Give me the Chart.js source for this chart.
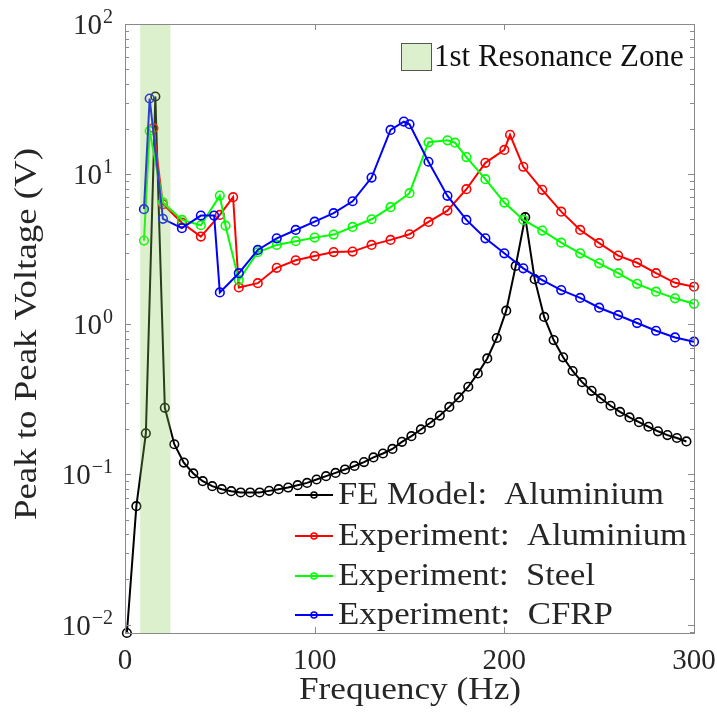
<!DOCTYPE html>
<html>
<head>
<meta charset="utf-8">
<script src="https://cdn.jsdelivr.net/npm/chart.js"></script>
<style>
    html, body { margin: 0; padding: 0; background: #fff; }
</style>
</head>
<body>
<canvas id="myChart" width="717" height="722"></canvas>
<script>
// FE model, aluminium plate
const feFreq = [1, 6, 11, 16, 21, 26, 31, 36, 41, 46, 51, 56, 61, 66, 71, 76, 81, 86, 91, 96,
    101, 106, 111, 116, 121, 126, 131, 136, 141, 146, 151, 156, 161, 166, 171, 176, 181, 186, 191, 196,
    201, 206, 211, 216, 221, 226, 231, 236, 241, 246, 251, 256, 261, 266, 271, 276, 281, 286, 291, 296];
const feVolt = [0.0088, 0.0615, 0.188, 32.9, 0.278, 0.159, 0.120, 0.1016, 0.0902, 0.0836,
    0.0798, 0.0774, 0.0759, 0.0759, 0.0759, 0.0778, 0.0798, 0.0819, 0.0849, 0.0879,
    0.0926, 0.0975, 0.1025, 0.108, 0.114, 0.121, 0.130, 0.138, 0.148, 0.165,
    0.180, 0.1995, 0.221, 0.247, 0.282, 0.326, 0.384, 0.471, 0.593, 0.811,
    1.233, 2.45, 5.17, 2.0, 1.12, 0.786, 0.603, 0.489, 0.412, 0.361,
    0.321, 0.287, 0.261, 0.240, 0.223, 0.208, 0.194, 0.183, 0.175, 0.166];

// experiments
const alFreq = [15, 20, 30, 40, 50, 57, 60, 70, 80, 90, 100, 110, 120, 130, 140, 150, 160, 170, 180, 190,
    200, 203, 210, 220, 230, 240, 250, 260, 270, 280, 290, 300];
const alVolt = [20.3, 6.3, 4.75, 3.84, 5.35, 7.03, 1.76, 1.88, 2.38, 2.67, 2.85, 3.03, 3.05, 3.38, 3.65, 3.98, 4.81, 5.72, 7.94, 11.9,
    14.5, 18.3, 11.2, 7.86, 5.63, 4.25, 3.47, 2.87, 2.57, 2.19, 1.89, 1.78];

const stFreq = [10, 13, 20, 30, 40, 50, 53, 60, 70, 80, 90, 100, 110, 120, 130, 140, 150, 160, 170, 174,
    180, 190, 200, 210, 220, 230, 240, 250, 260, 270, 280, 290, 300];
const stVolt = [3.61, 19.4, 6.5, 4.96, 4.57, 7.2, 4.54, 1.97, 3.02, 3.38, 3.58, 3.78, 3.96, 4.45, 5.01, 6.03, 7.47, 16.3, 16.8, 16.2,
    13.0, 9.26, 6.47, 4.96, 4.21, 3.50, 2.97, 2.55, 2.19, 1.86, 1.65, 1.49, 1.37];

const cfFreq = [10, 13, 20, 30, 40, 47, 50, 60, 70, 80, 90, 100, 110, 120, 130, 140, 147, 150, 160, 170,
    180, 190, 200, 210, 220, 230, 240, 250, 260, 270, 280, 290, 300];
const cfVolt = [5.85, 31.9, 5.04, 4.37, 5.3, 5.3, 1.63, 2.19, 3.13, 3.74, 4.25, 4.83, 5.5, 6.6, 9.49, 19.7, 22.4, 21.5, 12.1, 7.17,
    4.96, 3.74, 2.97, 2.36, 1.97, 1.69, 1.50, 1.29, 1.15, 1.02, 0.906, 0.818, 0.766];

const seriesNames = ['FE Model:  Aluminium', 'Experiment:  Aluminium', 'Experiment:  Steel', 'Experiment:  CFRP'];
const seriesColors = ['#000000', '#ff0000', '#00ff00', '#0000ff'];
const xTicks = [0, 100, 200, 300];
const yExps = [-2, -1, 0, 1, 2];
const resonanceZone = [8, 24];
const zoneLabel = '1st Resonance Zone';

const FONT = '"Liberation Serif", "Times New Roman", serif';
const TXT = '#262626';

const toPoints = (xs, ys) => xs.map((v, i) => ({ x: v, y: ys[i] }));

// text squeezed/stretched to the width measured on the reference
function wideText(ctx, text, x, y, size, width) {
    ctx.font = size + 'px ' + FONT;
    const w = ctx.measureText(text).width;
    ctx.save();
    ctx.translate(x, y);
    ctx.scale(width / w, 1);
    ctx.textAlign = 'left';
    ctx.fillText(text, 0, 0);
    ctx.restore();
}

function drawPow(ctx, exp, xRight, yc) {
    const sup = exp < 0 ? '\u2212' + (-exp) : String(exp);
    ctx.textAlign = 'left';
    ctx.textBaseline = 'alphabetic';
    ctx.font = '20px ' + FONT;
    const ws = ctx.measureText(sup).width;
    ctx.font = '29px ' + FONT;
    const wb = ctx.measureText('10').width;
    ctx.fillText('10', xRight - ws - wb - 1, yc + 10);
    ctx.font = '20px ' + FONT;
    ctx.fillText(sup, xRight - ws, yc - 1);
}

const zonePlugin = {
    id: 'zone',
    afterDatasetsDraw(chart) {
        const { ctx, chartArea: a, scales: { x } } = chart;
        const x0 = x.getPixelForValue(resonanceZone[0]);
        const x1 = x.getPixelForValue(resonanceZone[1]);
        ctx.save();
        ctx.fillStyle = 'rgba(142,205,88,0.3)';
        ctx.fillRect(x0, a.top, x1 - x0, a.bottom - a.top);
        ctx.restore();
    }
};

const framePlugin = {
    id: 'frame',
    afterDraw(chart) {
        const { ctx, chartArea: a, scales: { x, y } } = chart;
        ctx.save();
        // box
        ctx.strokeStyle = '#8a8a8a';
        ctx.lineWidth = 1;
        ctx.strokeRect(a.left + 0.5, a.top + 0.5, a.right - a.left, a.bottom - a.top);

        ctx.beginPath();
        xTicks.forEach(v => {
            const px = Math.round(x.getPixelForValue(v)) + 0.5;
            ctx.moveTo(px, a.bottom); ctx.lineTo(px, a.bottom - 6);
            ctx.moveTo(px, a.top); ctx.lineTo(px, a.top + 6);
        });
        for (let e = -3; e <= 1; e++) {
            for (let k = 1; k <= 9; k++) {
                const v = k * Math.pow(10, e);
                if (v < y.min || v > y.max) continue;
                const py = Math.round(y.getPixelForValue(v)) + 0.5;
                const len = k === 1 ? 6 : 4;
                ctx.moveTo(a.left, py); ctx.lineTo(a.left + len, py);
                ctx.moveTo(a.right, py); ctx.lineTo(a.right - len, py);
            }
        }
        ctx.stroke();

        // tick labels
        ctx.fillStyle = TXT;
        ctx.font = '29px ' + FONT;
        ctx.textAlign = 'center';
        ctx.textBaseline = 'middle';
        xTicks.forEach(v => ctx.fillText(String(v), x.getPixelForValue(v), a.bottom + 28));
        yExps.forEach(e => drawPow(ctx, e, 113, y.getPixelForValue(Math.pow(10, e))));

        // axis titles
        ctx.textBaseline = 'middle';
        wideText(ctx, 'Frequency (Hz)', 299, 691, 31, 222);
        ctx.save();
        ctx.translate(28, 520);
        ctx.rotate(-Math.PI / 2);
        wideText(ctx, 'Peak to Peak Voltage (V)', 0, 0, 31, 372);
        ctx.restore();

        // zone legend
        ctx.fillStyle = 'rgb(221,240,205)';
        ctx.fillRect(401, 43, 30, 27);
        ctx.strokeStyle = '#555';
        ctx.strokeRect(401.5, 43.5, 30, 27);
        ctx.fillStyle = '#111';
        ctx.font = '31px ' + FONT;
        ctx.textAlign = 'left';
        ctx.fillText(zoneLabel, 434, 58);

        // series legend
        const rows = [495, 536, 576, 615];
        seriesNames.forEach((name, i) => {
            const ry = rows[i];
            ctx.strokeStyle = seriesColors[i];
            ctx.lineWidth = 2;
            ctx.beginPath();
            ctx.moveTo(295, ry); ctx.lineTo(333, ry);
            ctx.stroke();
            ctx.lineWidth = 1.5;
            ctx.beginPath();
            ctx.arc(314, ry, 3, 0, Math.PI * 2);
            ctx.stroke();
            ctx.fillStyle = TXT;
            ctx.textBaseline = 'middle';
            const widths = [326, 349, 257, 275];
            wideText(ctx, name, 338, ry + 1, 32, widths[i]);
        });
        ctx.restore();
    }
};

const makeSet = (label, pts, color, order) => ({
    label: label,
    data: pts,
    borderColor: color,
    borderWidth: 2,
    pointStyle: 'circle',
    pointRadius: 4.3,
    pointBorderWidth: 1.6,
    pointBorderColor: color,
    pointBackgroundColor: 'rgba(0,0,0,0)',
    tension: 0,
    clip: false,
    order: order
});

new Chart('myChart', {
    type: 'line',
    data: {
        datasets: [
            makeSet(seriesNames[0], toPoints(feFreq, feVolt), seriesColors[0], 4),
            makeSet(seriesNames[1], toPoints(alFreq, alVolt), seriesColors[1], 3),
            makeSet(seriesNames[2], toPoints(stFreq, stVolt), seriesColors[2], 2),
            makeSet(seriesNames[3], toPoints(cfFreq, cfVolt), seriesColors[3], 1)
        ]
    },
    options: {
        responsive: false,
        animation: false,
        layout: { padding: { left: 125, top: 24, right: 23, bottom: 89 } },
        scales: {
            x: { type: 'linear', min: 0, max: 300, display: false },
            y: { type: 'logarithmic', min: 0.0088, max: 100, display: false }
        },
        plugins: {
            legend: { display: false },
            tooltip: { enabled: false }
        }
    },
    plugins: [zonePlugin, framePlugin]
});
</script>
</body>
</html>
